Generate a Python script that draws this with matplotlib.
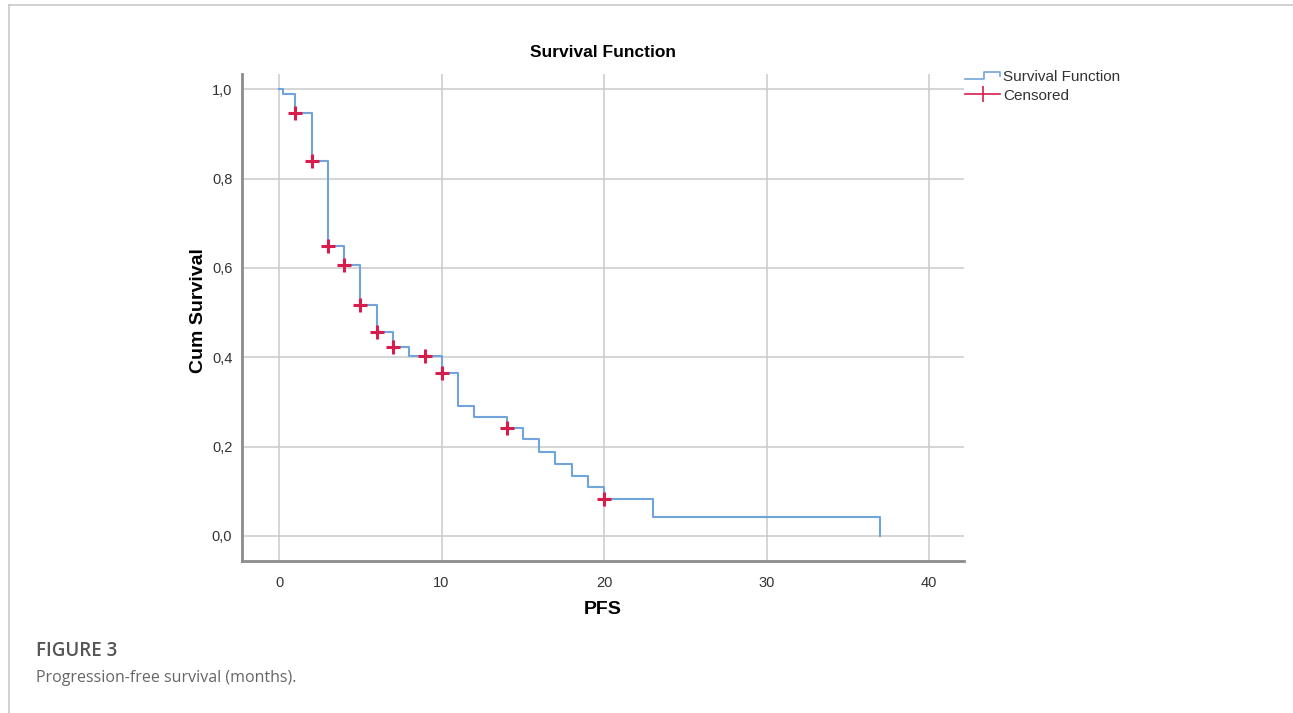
import matplotlib
matplotlib.use("Agg")
import matplotlib.pyplot as plt
from matplotlib.lines import Line2D
from matplotlib.legend_handler import HandlerBase

# Kaplan-Meier step curve (PFS in months)
times = [0, 0.25, 1, 2, 3, 4, 5, 6, 7, 8, 10, 11, 12, 14, 15, 16, 17, 18, 19, 20, 23, 37]
surv = [1.0, 0.989, 0.946, 0.839, 0.649, 0.606, 0.517, 0.457, 0.423, 0.403, 0.365,
        0.292, 0.267, 0.242, 0.216, 0.188, 0.161, 0.134, 0.109, 0.082, 0.042, 0.0]

# censored observations
cens_t = [1, 2, 3, 4, 5, 6, 7, 9, 10, 14, 20]
cens_s = [0.946, 0.839, 0.649, 0.606, 0.517, 0.457, 0.423, 0.403, 0.365, 0.242, 0.082]

xticks = [0, 10, 20, 30, 40]
yticks = [0.0, 0.2, 0.4, 0.6, 0.8, 1.0]
ylabels = ["0,0", "0,2", "0,4", "0,6", "0,8", "1,0"]

BLUE = "#72a4dc"
RED = "#d81c4c"
GRID = "#cacaca"
SPINE = "#8c8c8c"

plt.rcParams["font.family"] = ["Liberation Sans", "DejaVu Sans"]


class StepHandler(HandlerBase):
    # little step glyph like the SPSS legend
    def create_artists(self, legend, orig_handle, xdescent, ydescent,
                       width, height, fontsize, trans):
        x0, y0 = -xdescent, -ydescent
        xs = [x0, x0 + 0.55 * width, x0 + 0.55 * width, x0 + width, x0 + width]
        ys = [y0 + 0.2 * height, y0 + 0.2 * height, y0 + 0.8 * height,
              y0 + 0.8 * height, y0 + 0.5 * height]
        ln = Line2D(xs, ys, color=BLUE, lw=1.2, transform=trans)
        return [ln]


fig = plt.figure(figsize=(12.93, 7.13), dpi=100)
ax = fig.add_axes([242 / 1293, 1 - 561 / 713, (964 - 242) / 1293, (561 - 74) / 713])

ax.step(times, surv, where="post", color=BLUE, lw=1.5, zorder=3)
ax.plot(cens_t, cens_s, ls="none", marker="+", color=RED, ms=10, mew=2.2, zorder=4)

ax.set_xlim(-2.28, 42.15)
ax.set_ylim(-0.056, 1.034)
ax.set_xticks(xticks)
ax.set_yticks(yticks)
ax.set_yticklabels(ylabels)
ax.tick_params(axis="both", length=0, labelsize=10.5, labelcolor="#333333")
ax.tick_params(axis="x", pad=11)
ax.tick_params(axis="y", pad=7)
ax.grid(True, color=GRID, lw=1.1)
ax.set_axisbelow(True)

for side in ["top", "right"]:
    ax.spines[side].set_visible(False)
for side in ["left", "bottom"]:
    ax.spines[side].set_color(SPINE)
    ax.spines[side].set_linewidth(2.0)

ax.set_title("Survival Function", fontsize=12.5, fontweight="bold", pad=12)
ax.set_ylabel("Cum Survival", fontsize=14, fontweight="bold")
ax.yaxis.set_label_coords(-0.049, 0.515)
ax.set_xlabel("PFS", fontsize=14, fontweight="bold", labelpad=8)

h_step = Line2D([], [], color=BLUE)
h_cens = Line2D([0], [0], color=RED, lw=1.2, marker="|", ms=12, mew=1.2)
fig.legend([h_step, h_cens], ["Survival Function", "Censored"],
           handler_map={h_step: StepHandler()},
           loc="upper left", bbox_to_anchor=(965 / 1293, 1 - 70 / 713),
           frameon=False, fontsize=11, borderpad=0, borderaxespad=0,
           labelspacing=0.3, handlelength=2.3, handletextpad=0.2,
           labelcolor="#333333")

# journal frame and caption
fig.add_artist(Line2D([9 / 1293, 1], [1 - 5 / 713, 1 - 5 / 713],
                      transform=fig.transFigure, color="#c8c8c8", lw=1.2))
fig.add_artist(Line2D([9 / 1293, 9 / 1293], [0, 1 - 5 / 713],
                      transform=fig.transFigure, color="#c8c8c8", lw=1.2))
fig.text(36 / 1293, 1 - 651 / 713, "FIGURE 3", fontsize=13.5, fontweight="semibold",
         color="#555555", va="center", family=["Open Sans", "DejaVu Sans"])
fig.text(36 / 1293, 1 - 678 / 713, "Progression-free survival (months).", fontsize=11.5,
         color="#666666", va="center", family=["Open Sans", "DejaVu Sans"])

fig.savefig("out.png", dpi=100)
